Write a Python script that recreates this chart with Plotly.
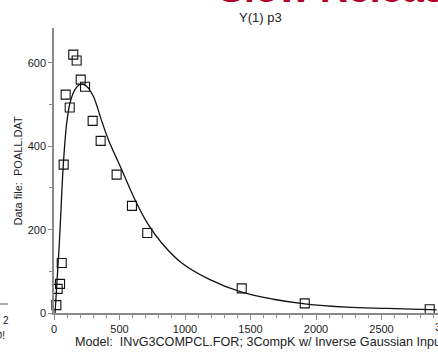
import plotly.graph_objects as go

# Observed concentrations (Data file: POALL.DAT)
time_obs = [18, 28, 46, 59, 74, 89, 120, 147, 173, 204, 237, 295, 356, 478, 595, 712, 1433, 1914, 2868]
conc_obs = [19, 58, 70, 120, 356, 524, 493, 620, 606, 560, 543, 461, 413, 332, 257, 192, 59, 23, 9]

# Model prediction, 3CompK w/ Inverse Gaussian input
time_fit = [8, 38, 51, 71, 97, 122, 160, 204, 249, 300, 364, 415, 517, 618, 720, 822,
            975, 1178, 1433, 1674, 1914, 2234, 2540, 2868, 2920]
conc_fit = [0, 152, 232, 356, 456, 504, 536, 549, 544, 520, 461, 416, 344, 272, 212, 168,
            120, 82, 50, 33, 22, 14, 11, 8, 7.5]

FONT = "Liberation Sans, Arial, sans-serif"
AXIS_GREY = "#8a8a8a"

fig = go.Figure()
fig.add_trace(go.Scatter(
    x=time_fit, y=conc_fit, mode="lines",
    line=dict(color="#111111", width=1.3, shape="spline", smoothing=1.0),
    hoverinfo="skip", showlegend=False,
))
fig.add_trace(go.Scatter(
    x=time_obs, y=conc_obs, mode="markers",
    marker=dict(symbol="square-open", size=9, color="#111111", line=dict(width=1.1)),
    showlegend=False, cliponaxis=False,
))

W, H = 438, 354
L, R, T, B = 54, 0, 28, 41
pw, ph = W - L - R, H - T - B

def px(xp):
    return (xp - L) / pw

def py(yp):
    return (H - B - yp) / ph

annotations = [
    dict(text="<b>Slow Release</b>", x=px(216), y=py(12), xanchor="left", yanchor="bottom",
         font=dict(family=FONT, size=39, color="#b3002a"), showarrow=False,
         xref="paper", yref="paper"),
    dict(text="Y(1) p3", x=px(260), y=py(17), xanchor="center", yanchor="middle",
         font=dict(family=FONT, size=13, color="#222222"), showarrow=False,
         xref="paper", yref="paper"),
    dict(text="Data file:&nbsp;&nbsp;POALL.DAT", x=px(17), y=0.5, xanchor="center", yanchor="middle",
         textangle=-90, font=dict(family=FONT, size=11, color="#222222"), showarrow=False,
         xref="paper", yref="paper"),
    dict(text="Model:&nbsp;&nbsp;INvG3COMPCL.FOR; 3CompK w/ Inverse Gaussian Input",
         x=px(73), y=py(342), xanchor="left", yanchor="middle",
         font=dict(family=FONT, size=12.6, color="#222222"), showarrow=False,
         xref="paper", yref="paper"),
    dict(text="3000", x=px(447), y=py(327), xanchor="center", yanchor="middle",
         font=dict(family=FONT, size=11, color="#222222"), showarrow=False,
         xref="paper", yref="paper"),
    dict(text="2", x=px(1), y=py(320), xanchor="left", yanchor="middle",
         font=dict(family=FONT, size=10, color="#222222"), showarrow=False,
         xref="paper", yref="paper"),
    dict(text="D!", x=px(7), y=py(335), xanchor="right", yanchor="middle",
         font=dict(family=FONT, size=10, color="#222222"), showarrow=False,
         xref="paper", yref="paper"),
]

fig.update_layout(
    width=W, height=H,
    margin=dict(l=L, r=R, t=T, b=B, pad=0),
    paper_bgcolor="white", plot_bgcolor="white",
    font=dict(family=FONT, size=11, color="#222222"),
    annotations=annotations,
    shapes=[dict(type="line", xref="paper", yref="paper", x0=px(0), x1=px(8),
                 y0=py(304), y1=py(304), line=dict(color="#555555", width=1))],
)
fig.update_xaxes(
    range=[0, pw / 0.131], showgrid=False, zeroline=False,
    showline=True, linecolor=AXIS_GREY, linewidth=1.5,
    tickmode="array", tickvals=[0, 500, 1000, 1500, 2000, 2500],
    ticks="outside", ticklen=5, tickcolor=AXIS_GREY, tickwidth=1,
    minor=dict(dtick=100, ticks="outside", ticklen=3, tickcolor=AXIS_GREY, tickwidth=1),
    tickfont=dict(size=11),
)
fig.update_yaxes(
    range=[0, ph / 0.4167], showgrid=False, zeroline=False,
    showline=True, linecolor=AXIS_GREY, linewidth=1.5,
    tickmode="array", tickvals=[0, 200, 400, 600],
    ticks="outside", ticklen=4, tickcolor=AXIS_GREY, tickwidth=1,
    minor=dict(dtick=100, ticks="outside", ticklen=3, tickcolor=AXIS_GREY, tickwidth=1),
    tickfont=dict(size=11),
)

fig.write_html("out.html")
